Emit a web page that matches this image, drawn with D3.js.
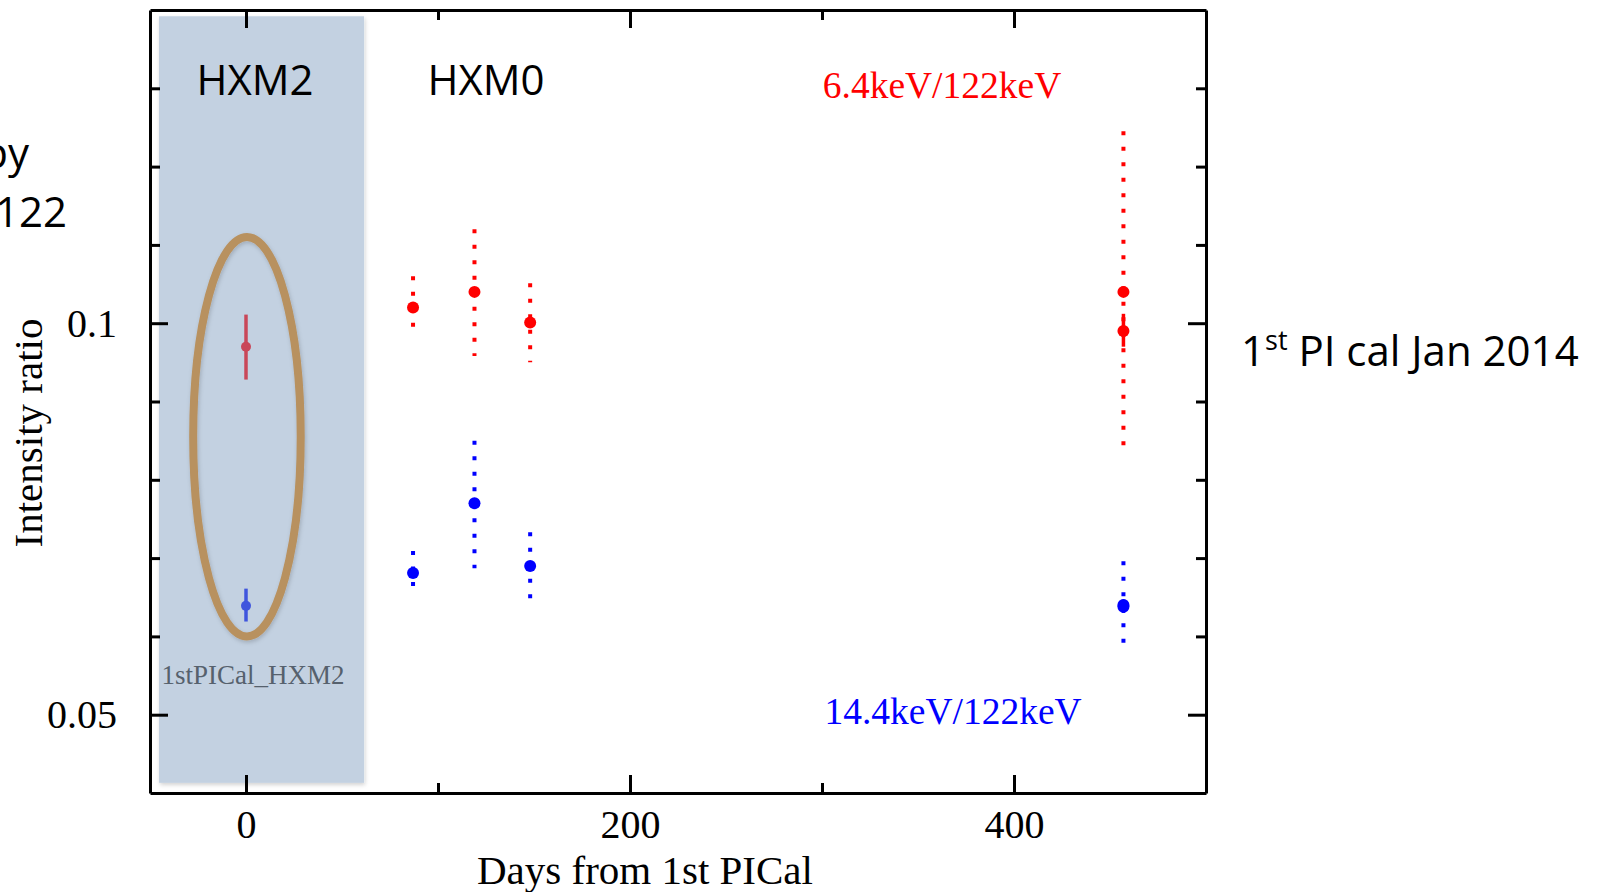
<!DOCTYPE html>
<html>
<head>
<meta charset="utf-8">
<script src="https://cdn.jsdelivr.net/npm/d3@7"></script>
<style>
  body { margin: 0; background: #fff; }
  svg { display: block; }
</style>
</head>
<body>
<div id="chart"></div>
<script>
// days from 1st PICal, and measured ratios (value, lower end, upper end)
// HXM0 points, dotted error bars
var hxm0Days    = [87, 119, 148, 457];
var hxm0Red     = [0.1020, 0.1040, 0.1001, 0.1040];
var hxm0RedLo   = [0.0993, 0.0958, 0.0950, 0.0832];
var hxm0RedHi   = [0.1060, 0.1120, 0.1051, 0.1245];
var hxm0Blue    = [0.0681, 0.0770, 0.0690, 0.0640];
var hxm0BlueLo  = [0.0663, 0.0687, 0.0648, 0.0592];
var hxm0BlueHi  = [0.0709, 0.0850, 0.0733, 0.0696];

// second point at ~457 days with solid error bars
var lateDays    = [457];
var lateRed     = [0.0990];
var lateRedLo   = [0.0970];
var lateRedHi   = [0.1012];
var lateBlue    = [0.0638];
var lateBlueLo  = [0.0630];
var lateBlueHi  = [0.0647];

// HXM2, 1st PI cal
var hxm2Days    = [0];
var hxm2Red     = [0.0970];
var hxm2RedLo   = [0.0928];
var hxm2RedHi   = [0.1011];
var hxm2Blue    = [0.0639];
var hxm2BlueLo  = [0.0619];
var hxm2BlueHi  = [0.0661];

var xTicks = [0, 100, 200, 300, 400];
var xLabels = [0, 200, 400];
var yTicks = [0.05, 0.06, 0.07, 0.08, 0.09, 0.10, 0.11, 0.12, 0.13];
var yLabels = [0.05, 0.1];

var W = 1600, H = 892;
var serif = "'Liberation Serif', 'Times New Roman', serif";
var sans = "'Open Sans', 'Noto Sans', sans-serif";

var svg = d3.select("#chart").append("svg")
    .attr("width", W)
    .attr("height", H);

var defs = svg.append("defs");
defs.append("filter").attr("id", "soft")
    .attr("x", "-10%").attr("y", "-10%").attr("width", "120%").attr("height", "120%")
  .append("feDropShadow")
    .attr("dx", 1).attr("dy", 2).attr("stdDeviation", 2)
    .attr("flood-color", "#000").attr("flood-opacity", 0.18);

var x = d3.scaleLinear().domain([-50, 500]).range([150, 1206]);
var y = d3.scaleLinear().domain([0.04, 0.14]).range([793, 10]);

// shaded HXM2 band
svg.append("rect")
    .attr("x", x(-45.3))
    .attr("y", y(0.1392))
    .attr("width", x(61.5) - x(-45.3))
    .attr("height", y(0.0413) - y(0.1392))
    .attr("fill", "#c3d1e1")
    .attr("filter", "url(#soft)");

function zip(days, v, lo, hi) {
  return days.map(function(d, i) { return {d: d, v: v[i], lo: lo[i], hi: hi[i]}; });
}

function drawSeries(data, color, dotted, r) {
  var g = svg.append("g");
  g.selectAll("line").data(data).enter().append("line")
    .attr("x1", function(p) { return x(p.d); })
    .attr("x2", function(p) { return x(p.d); })
    .attr("y1", function(p) { return y(p.hi); })
    .attr("y2", function(p) { return y(p.lo); })
    .attr("stroke", color)
    .attr("stroke-width", dotted ? 4 : 3.5)
    .attr("stroke-dasharray", dotted ? "4,11.5" : null);
  g.selectAll("circle").data(data).enter().append("circle")
    .attr("cx", function(p) { return x(p.d); })
    .attr("cy", function(p) { return y(p.v); })
    .attr("r", r)
    .attr("fill", color);
}

drawSeries(zip(hxm0Days, hxm0Red, hxm0RedLo, hxm0RedHi), "#ff0000", true, 6);
drawSeries(zip(hxm0Days, hxm0Blue, hxm0BlueLo, hxm0BlueHi), "#0000ff", true, 6);
drawSeries(zip(lateDays, lateRed, lateRedLo, lateRedHi), "#ff0000", false, 6);
drawSeries(zip(lateDays, lateBlue, lateBlueLo, lateBlueHi), "#0000ff", false, 6);
drawSeries(zip(hxm2Days, hxm2Red, hxm2RedLo, hxm2RedHi), "#c94759", false, 5);
drawSeries(zip(hxm2Days, hxm2Blue, hxm2BlueLo, hxm2BlueHi), "#3f55dd", false, 5);

// highlight ellipse round the HXM2 points
svg.append("ellipse")
    .attr("cx", x(0.5))
    .attr("cy", y(0.0855))
    .attr("rx", x(28) - x(0))
    .attr("ry", y(0.0855) - y(0.0855 + 0.0255))
    .attr("fill", "none")
    .attr("stroke", "#b8915f")
    .attr("stroke-width", 8)
    .attr("filter", "url(#soft)");

// axes, ticks inward on all four sides
function xFmt(d) { return xLabels.indexOf(d) >= 0 ? d : ""; }
function isYMajor(d) { return yLabels.some(function(l) { return Math.abs(l - d) < 1e-9; }); }
function yFmt(d) { return isYMajor(d) ? String(+d.toFixed(2)) : ""; }

var axisBottomG = svg.append("g").attr("transform", "translate(0,793)")
    .call(d3.axisBottom(x).tickValues(xTicks).tickFormat(xFmt).tickSizeInner(-10).tickSizeOuter(0).tickPadding(17));
axisBottomG.selectAll(".tick line").attr("y2", function(d) { return xLabels.indexOf(d) >= 0 ? -18 : -10; });

var axisTopG = svg.append("g").attr("transform", "translate(0,10)")
    .call(d3.axisTop(x).tickValues(xTicks).tickFormat("").tickSizeInner(-10).tickSizeOuter(0));
axisTopG.selectAll(".tick line").attr("y2", function(d) { return xLabels.indexOf(d) >= 0 ? 18 : 10; });

var axisLeftG = svg.append("g").attr("transform", "translate(150,0)")
    .call(d3.axisLeft(y).tickValues(yTicks).tickFormat(yFmt).tickSizeInner(-10).tickSizeOuter(0).tickPadding(33));
axisLeftG.selectAll(".tick line").attr("x2", function(d) { return isYMajor(d) ? 18 : 10; });

var axisRightG = svg.append("g").attr("transform", "translate(1206,0)")
    .call(d3.axisRight(y).tickValues(yTicks).tickFormat("").tickSizeInner(-10).tickSizeOuter(0));
axisRightG.selectAll(".tick line").attr("x2", function(d) { return isYMajor(d) ? -18 : -10; });

svg.selectAll(".domain").attr("stroke", "#000").attr("stroke-width", 3);
svg.selectAll(".tick line").attr("stroke", "#000").attr("stroke-width", 3);
svg.selectAll(".tick text")
    .attr("fill", "#000")
    .style("font-family", serif)
    .style("font-size", "40px");

// axis titles
svg.append("text")
    .attr("x", 645).attr("y", 884)
    .attr("text-anchor", "middle")
    .style("font-family", serif).style("font-size", "41px")
    .text("Days from 1st PICal");

svg.append("text")
    .attr("transform", "translate(42,433) rotate(-90)")
    .attr("text-anchor", "middle")
    .style("font-family", serif).style("font-size", "41px")
    .text("Intensity ratio");

// in-plot labels
svg.append("text")
    .attr("x", 255).attr("y", 95)
    .attr("text-anchor", "middle")
    .style("font-family", sans).style("font-size", "42px")
    .text("HXM2");

svg.append("text")
    .attr("x", 486).attr("y", 95)
    .attr("text-anchor", "middle")
    .style("font-family", sans).style("font-size", "42px")
    .text("HXM0");

svg.append("text")
    .attr("x", 942).attr("y", 98)
    .attr("text-anchor", "middle")
    .attr("fill", "#ff0000")
    .style("font-family", serif).style("font-size", "37.5px")
    .text("6.4keV/122keV");

svg.append("text")
    .attr("x", 953).attr("y", 724)
    .attr("text-anchor", "middle")
    .attr("fill", "#0000ff")
    .style("font-family", serif).style("font-size", "37.5px")
    .text("14.4keV/122keV");

svg.append("text")
    .attr("x", 253).attr("y", 684)
    .attr("text-anchor", "middle")
    .attr("fill", "#56616d")
    .style("font-family", serif).style("font-size", "27px")
    .text("1stPICal_HXM2");

// text outside the frame
var note = svg.append("text")
    .attr("x", 1241).attr("y", 366)
    .style("font-family", sans).style("font-size", "42px");
note.append("tspan").text("1");
note.append("tspan").attr("dy", -16).style("font-size", "27px").text("st");
note.append("tspan").attr("dy", 16).text(" PI cal Jan 2014");

// fragments of a caption running off the left edge, as in the source slide
svg.append("text")
    .attr("x", 29).attr("y", 168)
    .attr("text-anchor", "end")
    .style("font-family", sans).style("font-size", "42px")
    .text("py");

svg.append("text")
    .attr("x", 67).attr("y", 227)
    .attr("text-anchor", "end")
    .style("font-family", sans).style("font-size", "42px")
    .text("122");
</script>
</body>
</html>
